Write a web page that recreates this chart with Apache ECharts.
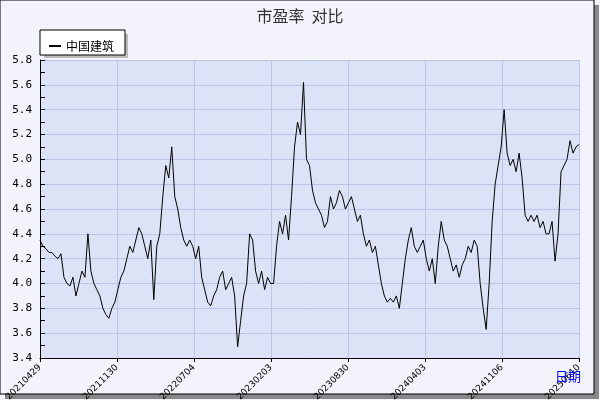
<!DOCTYPE html>
<html><head><meta charset="utf-8">
<script src="https://cdn.jsdelivr.net/npm/echarts@6/dist/echarts.min.js"></script>
<style>body{margin:0;background:#fff}#c{width:600px;height:400px}</style></head>
<body><div id="c"></div>
<script>
const tickLabels=['20210429','20211130','20220704','20230203','20230830','20240403','20241106','20250610'];
const seriesName='中国建筑';
const values=[4.35,4.3,4.28,4.25,4.25,4.22,4.2,4.24,4.05,4.0,3.98,4.05,3.9,4.0,4.1,4.05,4.4,4.1,4.0,3.95,3.9,3.8,3.75,3.72,3.8,3.85,3.95,4.05,4.1,4.2,4.3,4.25,4.35,4.45,4.4,4.3,4.2,4.35,3.87,4.3,4.4,4.7,4.95,4.85,5.1,4.7,4.6,4.45,4.35,4.3,4.35,4.3,4.2,4.3,4.05,3.95,3.85,3.82,3.9,3.95,4.05,4.1,3.95,4.0,4.05,3.9,3.49,3.7,3.9,4.0,4.4,4.35,4.1,4.0,4.1,3.95,4.05,4.0,4.0,4.3,4.5,4.4,4.55,4.35,4.7,5.1,5.3,5.2,5.62,5.0,4.95,4.75,4.65,4.6,4.55,4.45,4.5,4.7,4.6,4.65,4.75,4.7,4.6,4.65,4.7,4.6,4.5,4.55,4.4,4.3,4.35,4.25,4.3,4.15,4.0,3.9,3.85,3.88,3.85,3.9,3.8,4.0,4.2,4.35,4.45,4.3,4.25,4.3,4.35,4.2,4.1,4.2,4.0,4.3,4.5,4.35,4.3,4.2,4.1,4.15,4.05,4.15,4.2,4.3,4.25,4.35,4.3,4.0,3.8,3.63,4.0,4.5,4.8,4.95,5.1,5.4,5.05,4.95,5.0,4.9,5.05,4.85,4.55,4.5,4.55,4.5,4.55,4.45,4.5,4.4,4.4,4.5,4.18,4.4,4.9,4.95,5.0,5.15,5.05,5.1,5.12];
const yMin=3.4,yMax=5.8,yStep=0.2;
const xMax=values.length-1, xStep=xMax/(tickLabels.length-1);
const chart=echarts.init(document.getElementById('c'));
chart.setOption({
  animation:false,
  backgroundColor:'#f2f3fb',
  graphic:[
    {type:'rect',shape:{x:5,y:5,width:594,height:394},style:{fill:'#888'},z:-10},
    {type:'rect',shape:{x:0,y:0,width:594,height:394},style:{fill:'#f2f3fb',stroke:'#000',lineWidth:1},z:-9},
    {type:'rect',shape:{x:44,y:34,width:84,height:24},style:{fill:'#bbb'},z:1},
    {type:'rect',shape:{x:40,y:30,width:85,height:25},style:{fill:'#fff',stroke:'#000',lineWidth:1},z:2},
    {type:'text',left:555,top:370,style:{text:'日期',fill:'#0000ff',font:'13px "Noto Sans CJK SC"'},z:5}
  ],
  title:{text:'市盈率  对比',left:'center',top:3,textStyle:{fontFamily:'Noto Sans CJK SC',fontSize:16,fontWeight:'normal',color:'#333'}},
  legend:{left:44,top:35,itemWidth:12,itemHeight:2,icon:'rect',z:10,textStyle:{fontFamily:'Noto Sans CJK SC',fontSize:12,color:'#000'},data:[seriesName]},
  grid:{left:40,right:21,top:60,bottom:42,containLabel:false,outerBoundsMode:'none',show:true,backgroundColor:'#dde3f7',borderWidth:0},
  xAxis:{type:'value',min:0,max:xMax,interval:xStep,
    axisLine:{lineStyle:{color:'#000'}},axisTick:{inside:false,length:4,lineStyle:{color:'#000'}},
    splitLine:{show:true,lineStyle:{color:'#b8c4e8'}},
    axisLabel:{rotate:45,fontSize:9,color:'#000',fontFamily:'DejaVu Sans',showMaxLabel:true,
      formatter:v=>tickLabels[Math.round(v/xStep)]||''}},
  yAxis:{type:'value',min:yMin,max:yMax,interval:yStep,
    axisLine:{show:true,lineStyle:{color:'#000'}},axisTick:{inside:true,length:5,lineStyle:{color:'#000'}},
    minorTick:{show:true,splitNumber:2,length:5,lineStyle:{color:'#000'}},
    splitLine:{lineStyle:{color:'#b8c4e8'}},
    axisLabel:{fontSize:11,color:'#000',fontFamily:'DejaVu Sans Mono',formatter:v=>v.toFixed(1)}},
  series:[{name:seriesName,type:'line',data:values.map((v,i)=>[i,v]),showSymbol:false,
    lineStyle:{color:'#000',width:1},itemStyle:{color:'#000'}}]
});
</script></body></html>
